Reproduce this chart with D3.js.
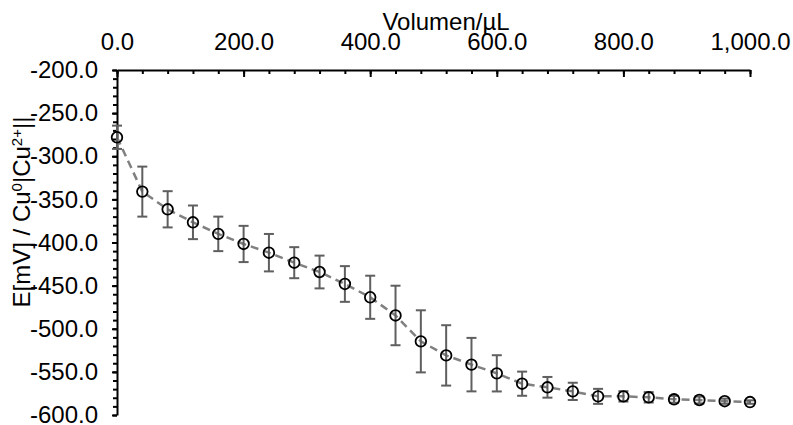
<!DOCTYPE html>
<html>
<head>
<meta charset="utf-8">
<script src="https://cdn.jsdelivr.net/npm/d3@7"></script>
<style>
  body { margin: 0; background: #fff; }
  svg text { font-family: "Liberation Sans", Arial, sans-serif; fill: #000; }
</style>
</head>
<body>
<svg class="chart"></svg>
<script>
// data
var volumes = [0, 40, 80, 120, 160, 200, 240, 280, 320, 360, 400, 440, 480,
               520, 560, 600, 640, 680, 720, 760, 800, 840, 880, 920, 960, 1000];
var potential = [-278, -341, -361.5, -376.6, -390, -401.7, -411.8, -423.4, -434.2,
                 -448.1, -463.5, -484.6, -514.6, -530.9, -541.6, -551.7, -563.7,
                 -567.9, -572.6, -578.4, -578.4, -579.5, -581.8, -582.6, -584, -585];
var errors = [13.5, 29, 21, 19.5, 20, 21, 21.7, 18, 19, 20.7, 25, 34.5, 36,
              35, 31, 21, 14, 12, 10, 8.7, 6, 6, 4, 4, 3, 2];
var xTicks = [0, 200, 400, 600, 800, 1000];
var yTicks = [-200, -250, -300, -350, -400, -450, -500, -550, -600];
var xTitle = "Volumen/µL";

var width = 793, height = 425;
var margin = {top: 70, right: 43, bottom: 10, left: 117};

var svg = d3.select("svg.chart")
  .attr("width", width)
  .attr("height", height);

var x = d3.scaleLinear().domain([0, 1000]).range([margin.left, 750]);
var y = d3.scaleLinear().domain([-200, -600]).range([margin.top, 415]);

// excel style labels, plain hyphen for minus
var fmtX = d3.format(",.1f");
var fmtY = function(d) { return d3.format(".1f")(d).replace("\u2212", "-"); };

var points = volumes.map(function(v, i) {
  return {v: v, e: potential[i], err: errors[i]};
});

// minor ticks
var g = svg.append("g");
g.append("g")
  .attr("transform", "translate(0," + margin.top + ")")
  .call(d3.axisBottom(x).tickValues(d3.range(0, 1001, 40)).tickSize(4).tickFormat(""))
  .call(function(a) { a.select(".domain").remove(); });
g.append("g")
  .attr("transform", "translate(" + margin.left + ",0)")
  .call(d3.axisLeft(y).tickValues(d3.range(-200, -601, -10)).tickSize(4).tickFormat(""))
  .call(function(a) { a.select(".domain").remove(); });

// x axis along the top, ticks pointing in
var xAxis = svg.append("g")
  .attr("transform", "translate(0," + margin.top + ")")
  .call(d3.axisBottom(x).tickValues(xTicks).tickSize(7).tickSizeOuter(0)
    .tickFormat(fmtX));
xAxis.selectAll("text")
  .attr("y", -20)
  .attr("dy", 0)
  .style("font-size", "24px");

// y axis
var yAxis = svg.append("g")
  .attr("transform", "translate(" + margin.left + ",0)")
  .call(d3.axisLeft(y).tickValues(yTicks).tickSize(5).tickSizeOuter(0)
    .tickFormat(fmtY));
yAxis.selectAll("text")
  .attr("x", -19)
  .style("font-size", "24px");

svg.selectAll(".domain, .tick line")
  .attr("stroke", "#000")
  .attr("stroke-width", 2);

// axis titles
svg.append("text")
  .attr("x", 446)
  .attr("y", 30)
  .attr("text-anchor", "middle")
  .style("font-size", "24px")
  .text(xTitle);

var yTitle = svg.append("text")
  .attr("transform", "translate(30,212) rotate(-90)")
  .attr("text-anchor", "middle")
  .style("font-size", "24px");
yTitle.append("tspan").text("E[mV] / Cu");
yTitle.append("tspan").attr("baseline-shift", "super").style("font-size", "15px").text("0");
yTitle.append("tspan").text("|Cu");
yTitle.append("tspan").attr("baseline-shift", "super").style("font-size", "15px").text("2+");
yTitle.append("tspan").text("||");

// dashed line
svg.append("path")
  .datum(points)
  .attr("fill", "none")
  .attr("stroke", "#808080")
  .attr("stroke-width", 2.5)
  .attr("stroke-dasharray", "8,5")
  .attr("d", d3.line().x(function(d) { return x(d.v); }).y(function(d) { return y(d.e); }));

// error bars
var bars = svg.append("g")
  .attr("stroke", "#5f5f5f")
  .attr("stroke-width", 2)
  .selectAll("g")
  .data(points)
  .enter().append("g");
bars.append("line")
  .attr("x1", function(d) { return x(d.v); })
  .attr("x2", function(d) { return x(d.v); })
  .attr("y1", function(d) { return y(d.e + d.err); })
  .attr("y2", function(d) { return y(d.e - d.err); });
bars.append("line")
  .attr("x1", function(d) { return x(d.v) - 5; })
  .attr("x2", function(d) { return x(d.v) + 5; })
  .attr("y1", function(d) { return y(d.e + d.err); })
  .attr("y2", function(d) { return y(d.e + d.err); });
bars.append("line")
  .attr("x1", function(d) { return x(d.v) - 5; })
  .attr("x2", function(d) { return x(d.v) + 5; })
  .attr("y1", function(d) { return y(d.e - d.err); })
  .attr("y2", function(d) { return y(d.e - d.err); });

// markers
svg.append("g")
  .selectAll("circle")
  .data(points)
  .enter().append("circle")
  .attr("cx", function(d) { return x(d.v); })
  .attr("cy", function(d) { return y(d.e); })
  .attr("r", 5.3)
  .attr("fill", "none")
  .attr("stroke", "#000")
  .attr("stroke-width", 1.8);
</script>
</body>
</html>
